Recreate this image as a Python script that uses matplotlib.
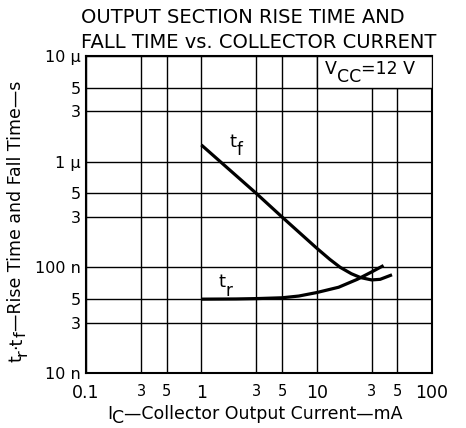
import matplotlib
matplotlib.use("Agg")
import matplotlib.pyplot as plt
from matplotlib.patches import Rectangle
from matplotlib.transforms import IdentityTransform

plt.rcParams['font.family'] = ['DejaVu Sans']

# Data (I_C in mA, times in seconds)
ic_f = [1, 3, 5, 10, 13, 16, 20, 24, 30, 35.5, 45]
tf = [1.44e-6, 0.5e-6, 0.3e-6, 0.152e-6, 0.119e-6, 0.100e-6, 87e-9,
      80e-9, 76e-9, 77e-9, 85e-9]
ic_r = [1, 2, 3, 5, 7, 10, 15.5, 22.5, 30, 38]
tr = [50e-9, 50.2e-9, 50.6e-9, 51.5e-9, 53.5e-9, 57.7e-9, 64.8e-9, 77e-9,
      90.5e-9, 104e-9]

x_ticks = [0.1, 0.3, 0.5, 1, 3, 5, 10, 30, 50, 100]
x_labels = ['0.1', '3', '5', '1', '3', '5', '10', '3', '5', '100']
x_major = [True, False, False, True, False, False, True, False, False, True]
y_ticks = [1e-8, 3e-8, 5e-8, 1e-7, 3e-7, 5e-7, 1e-6, 3e-6, 5e-6, 1e-5]
y_labels = ['10 n', '3', '5', '100 n', '3', '5', '1 µ', '3', '5', '10 µ']

W, H = 466, 428
fig = plt.figure(figsize=(W / 100, H / 100), dpi=100)
ax = fig.add_axes([86 / W, 1 - 373 / H, (432 - 86) / W, (373 - 56) / H])
ax.set_xscale('log')
ax.set_yscale('log')
ax.set_xlim(0.1, 100)
ax.set_ylim(1e-8, 1e-5)
ax.set_xticks(x_ticks)
ax.set_xticklabels(x_labels)
ax.set_yticks(y_ticks)
ax.set_yticklabels(y_labels)
ax.minorticks_off()
ax.tick_params(length=0, colors='black')
ax.tick_params(axis='x', pad=8)
ax.tick_params(axis='y', pad=4, labelsize=11.5)
for lab, big in zip(ax.get_xticklabels(), x_major):
    lab.set_fontsize(12.5 if big else 10.5)
ax.grid(True, color='black', linewidth=1.0)
for s in ax.spines.values():
    s.set_linewidth(1.5)

ax.plot(ic_f, tf, color='black', linewidth=2.3, solid_capstyle='butt')
ax.plot(ic_r, tr, color='black', linewidth=2.3, solid_capstyle='butt')

# V_CC box
rect = Rectangle((10, 5e-6), 90, 5e-6, facecolor='white', edgecolor='black',
                 linewidth=1.0, zorder=3)
ax.add_patch(rect)

renderer = fig.canvas.get_renderer()
ID = IdentityTransform()


def text_width(s, size):
    t = fig.text(0, 0, s, fontsize=size)
    w = t.get_window_extent(renderer).width
    t.remove()
    return w


def rich(parts, x, y, align='left', rotation=0, zorder=5):
    widths = [text_width(s, sz) for s, sz, d in parts]
    total = sum(widths)
    pos = (x if rotation == 0 else y)
    if align == 'center':
        pos -= total / 2
    for (s, sz, d), w in zip(parts, widths):
        if rotation == 0:
            fig.text(pos, y - d, s, fontsize=sz, ha='left', va='baseline',
                     transform=ID, zorder=zorder)
        else:
            fig.text(x + d, pos, s, fontsize=sz, ha='left', va='baseline',
                     rotation=90, rotation_mode='anchor', transform=ID,
                     zorder=zorder)
        pos += w


def data_px(x, y):
    return ax.transData.transform((x, y))


# curve labels
px, py = data_px(1.77, 1.38e-6)
rich([('t', 13, 0), ('f', 12, 8)], px, py)
px, py = data_px(1.42, 65.3e-9)
rich([('t', 13, 0), ('r', 12, 9)], px, py)
px, py = data_px(11.8, 6.76e-6)
rich([('V', 12.5, 0), ('CC', 12.5, 8), ('=12 V', 12.5, 0)], px, py)

# title
fig.text(81 / W, 1 - 23 / H, 'OUTPUT SECTION RISE TIME AND', fontsize=14,
         ha='left', va='baseline')
fig.text(81 / W, 1 - 48 / H, 'FALL TIME vs. COLLECTOR CURRENT', fontsize=14,
         ha='left', va='baseline')

# axis labels
rich([('I', 12.5, 0), ('C', 12.5, 4), ('—Collector Output Current—mA', 12.5, 0)],
     255, H - 419, align='center')
rich([('t', 12.5, 0), ('r', 11.5, 5), ('·t', 12.5, 0), ('f', 11.5, 5),
      ('—Rise Time and Fall Time—s', 12.5, 0)],
     21, H - 221.5, align='center', rotation=90)

fig.savefig('out.png', dpi=100)
